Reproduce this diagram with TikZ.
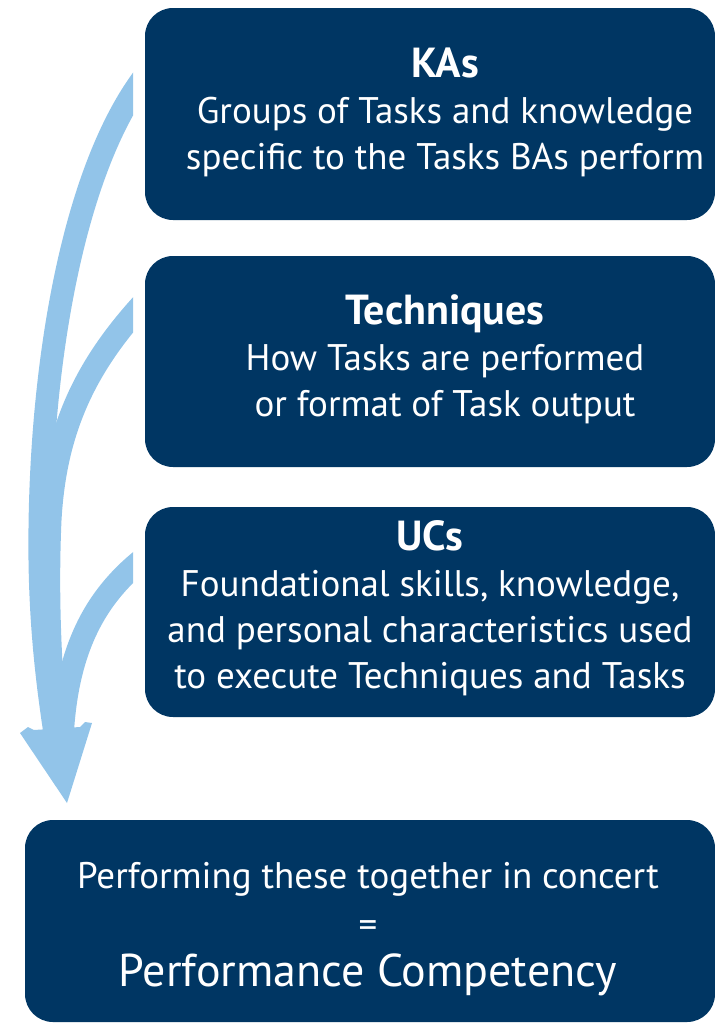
\documentclass[tikz,border=0pt]{standalone}
\usepackage{fontspec}
\setmainfont{PT Sans}
\usetikzlibrary{calc,positioning}
\definecolor{navy}{RGB}{0,54,99}
\definecolor{skyblue}{RGB}{146,196,233}
\tikzset{panel/.style={fill=navy,rounded corners=28pt,minimum width=570pt,inner sep=0pt},
	paneltext/.style={text=white,align=center,inner sep=0pt,font=\fontsize{37}{46}\selectfont},
	band/.style={draw=skyblue,line width=23pt}}
\newcommand{\paneltitle}[1]{{\fontsize{42}{50}\selectfont\bfseries #1}}

\begin{document}
\begin{tikzpicture}[x=1pt,y=-1pt]
	\useasboundingbox (0,0) rectangle (715,1026);

	% boxes
	\node[panel,minimum height=212pt] (ka) at (430,114) {};
	\node[panel,minimum height=211pt] (tech) at (430,361.5) {};
	\node[panel,minimum height=210pt] (uc) at (430,612) {};
	\node[panel,minimum width=690pt,minimum height=202pt] (perf) at (370,921) {};

	\node[paneltext] (ka text) at ($(ka.center)+(15,-2)$)
	{\paneltitle{KAs}\\Groups of Tasks and knowledge\\specific to the Tasks BAs perform};
	\node[paneltext] (tech text) at ($(tech.center)+(15,-2)$)
	{\paneltitle{Techniques}\\How Tasks are performed\\or format of Task output};
	\node[paneltext] (uc text) at ($(uc.center)+(0,-4)$)
	{\paneltitle{UCs}\\Foundational skills, knowledge,\\and personal characteristics used\\to execute Techniques and Tasks};
	\node[paneltext,font=\fontsize{37}{49}\selectfont] (perf text) at ($(perf.center)+(-2,8)$)
	{Performing these together in concert\\=\\{\fontsize{46}{49}\selectfont Performance Competency}};

	% arrows
	\coordinate (s1) at (148,72);
	\coordinate (s2) at (148,298);
	\coordinate (s3) at (148,555);
	\coordinate (tip) at (67,803);
	\begin{scope}
		\clip (0,0) rectangle (133,1026);
		\draw[band] (s1) .. controls (70,170) and (38,380) .. (40,560)
		.. controls (41,640) and (50,700) .. (56,740);
		\draw[band] (s2) .. controls (85,365) and (55,430) .. (50,520)
		.. controls (46,610) and (52,690) .. (57,740);
		\draw[band] (s3) .. controls (95,595) and (66,650) .. (62,740);
	\end{scope}
	\fill[skyblue] (20,733) -- (28,727) -- (34,730) -- (80,727) -- (85,722) -- (92,723) -- (tip) -- cycle;
\end{tikzpicture}
\end{document}
